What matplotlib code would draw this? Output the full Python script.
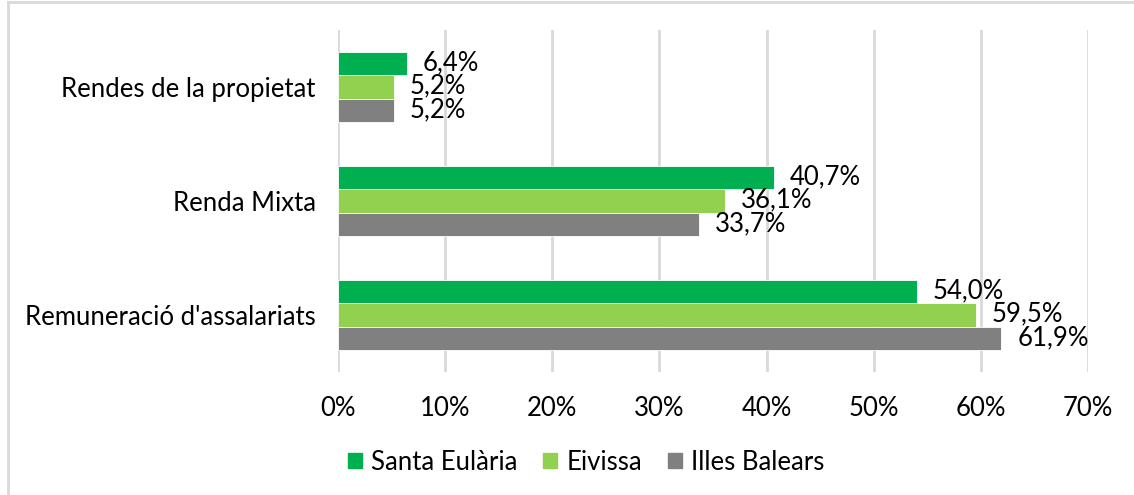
import matplotlib
matplotlib.use("Agg")
import matplotlib.pyplot as plt
from matplotlib.patches import Patch
import numpy as np

categories = ["Remuneració d'assalariats", "Renda Mixta", "Rendes de la propietat"]
series_names = ["Santa Eulària", "Eivissa", "Illes Balears"]
santa_eularia = [54.0, 40.7, 6.4]
eivissa = [59.5, 36.1, 5.2]
illes_balears = [61.9, 33.7, 5.2]
xticks = [0, 10, 20, 30, 40, 50, 60, 70]
colors = ["#00B050", "#92D050", "#808080"]

plt.rcParams['font.family'] = ['Lato', 'DejaVu Sans']
FS = 18.5

fig = plt.figure(figsize=(11.34, 4.95), dpi=100)
ax = fig.add_axes([338/1134, 1 - 372/495, (1088-338)/1134, (372-30)/495])

y = np.arange(len(categories))
h = 0.206
all_series = [santa_eularia, eivissa, illes_balears]
offsets = [h, 0, -h]
for vals, off, c, name in zip(all_series, offsets, colors, series_names):
    bars = ax.barh(y + off, vals, height=h, color=c, label=name, zorder=3,
                   edgecolor='white', linewidth=0.6)
    for b, v in zip(bars, vals):
        ax.annotate(f"{v:.1f}%".replace('.', ','), (v, b.get_y() + b.get_height()/2),
                    xytext=(16, 1), textcoords='offset pixels',
                    va='center', ha='left', fontsize=FS, color='black', zorder=4)

ax.set_xlim(0, 70)
ax.set_ylim(-0.5, 2.5)
ax.set_xticks(xticks)
ax.set_xticklabels([f"{t}%" for t in xticks], fontsize=FS)
ax.set_yticks(y)
ax.set_yticklabels(categories, fontsize=FS)
ax.tick_params(axis='both', length=0, colors='black')
ax.tick_params(axis='x', pad=17)
ax.tick_params(axis='y', pad=16)
ax.grid(axis='x', color='#D9D9D9', linewidth=2, zorder=0)
for s in ax.spines.values():
    s.set_visible(False)

handles = [Patch(color=c, label=n) for c, n in zip(colors, series_names)]
fig.legend(handles=handles, loc='center', bbox_to_anchor=(586/1134, 1 - 462/495),
           ncol=3, frameon=False, fontsize=FS, handlelength=0.55, handleheight=0.55,
           handletextpad=0.35, columnspacing=1.0)

# chart border (left and top)
fig.add_artist(plt.Line2D([7.5/1134, 7.5/1134], [0, 1 - 2/495], transform=fig.transFigure,
                          color='#D9D9D9', linewidth=2))
fig.add_artist(plt.Line2D([7.5/1134, 1], [1 - 2/495, 1 - 2/495], transform=fig.transFigure,
                          color='#D9D9D9', linewidth=2))

fig.savefig("out.png", dpi=100)
